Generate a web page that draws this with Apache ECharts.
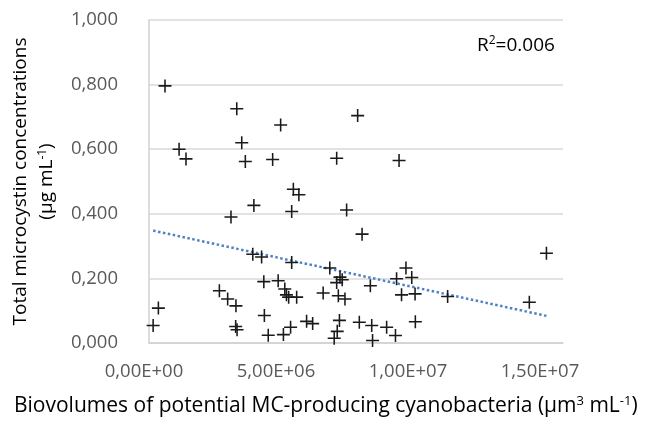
<!DOCTYPE html>
<html><head><meta charset="utf-8">
<script src="https://cdn.jsdelivr.net/npm/echarts@6/dist/echarts.min.js"></script>
<style>html,body{margin:0;padding:0;background:#fff}#c{width:654px;height:424px}</style>
</head><body><div id="c"></div>
<script>
// Biovolume (µm3 mL-1)
const biovolume = [
  0.58e6, 3.18e6, 4.77e6, 1.09e6, 1.34e6, 3.36e6, 3.49e6, 4.48e6, 5.23e6, 5.43e6,
  3.80e6, 5.17e6, 2.97e6, 3.76e6, 4.08e6, 5.17e6, 4.16e6, 4.68e6, 4.92e6, 4.98e6,
  5.06e6, 5.35e6, 2.55e6, 2.85e6, 3.15e6, 0.34e6, 0.15e6, 4.18e6, 3.14e6, 3.19e6,
  4.32e6, 4.87e6, 5.13e6, 5.71e6, 5.93e6, 7.56e6, 6.80e6, 9.06e6, 7.16e6, 7.72e6,
  6.55e6, 6.92e6, 7.00e6, 6.80e6, 8.02e6, 6.31e6, 6.86e6, 7.10e6, 9.31e6, 8.97e6,
  9.52e6, 9.15e6, 9.64e6, 10.82e6, 6.90e6, 6.82e6, 6.71e6, 7.62e6, 8.07e6, 8.10e6,
  8.61e6, 8.93e6, 9.65e6, 14.40e6, 13.78e6
];
// Total microcystin (µg mL-1)
const microcystin = [
  0.796, 0.725, 0.675, 0.600, 0.570, 0.620, 0.562, 0.568, 0.476, 0.459,
  0.426, 0.407, 0.390, 0.275, 0.266, 0.249, 0.190, 0.193, 0.167, 0.149,
  0.142, 0.142, 0.162, 0.136, 0.115, 0.108, 0.054, 0.085, 0.051, 0.041,
  0.024, 0.026, 0.049, 0.067, 0.060, 0.704, 0.572, 0.565, 0.412, 0.337,
  0.232, 0.204, 0.196, 0.187, 0.177, 0.155, 0.146, 0.136, 0.232, 0.199,
  0.203, 0.149, 0.152, 0.144, 0.070, 0.036, 0.015, 0.064, 0.054, 0.008,
  0.049, 0.023, 0.066, 0.278, 0.126
];
// Linear trend line end points
const trendX = [0.15e6, 14.40e6];
const trendY = [0.348, 0.084];

const xTickLabels = ['0,00E+00', '5,00E+06', '1,00E+07', '1,50E+07'];
const yTickLabels = ['0,000', '0,200', '0,400', '0,600', '0,800', '1,000'];
const xStep = 5e6, yStep = 0.2;

const points = biovolume.map((x, i) => [x, microcystin[i]]);
const trend = trendX.map((x, i) => [x, trendY[i]]);

const FONT = '"Open Sans", "Noto Sans", sans-serif';
const plus = 'path://M44,0H56V44H100V56H56V100H44V56H0V44H44Z';

const xRich = {};
xTickLabels.forEach((t, i) => {
  xRich['l' + i] = { fontFamily: FONT, fontSize: 18.5, color: '#595959', padding: [0, 2 * (5 + 6 * i), 0, 0] };
});

const chart = echarts.init(document.getElementById('c'), null, { renderer: 'canvas' });
chart.setOption({
  animation: false,
  backgroundColor: '#fff',
  grid: { left: 149, right: 91, top: 20, bottom: 81, containLabel: false, outerBoundsMode: 'none' },
  xAxis: {
    type: 'value', min: 0, max: 1.5e7, interval: xStep,
    axisLine: { show: true, lineStyle: { color: '#d0d0d0', width: 1.5 } },
    axisTick: { show: false },
    splitLine: { show: false },
    axisLabel: {
      margin: 19,
      formatter: v => { const i = Math.round(v / xStep); return '{l' + i + '|' + xTickLabels[i] + '}'; },
      rich: xRich
    }
  },
  yAxis: {
    type: 'value', min: 0, max: 1, interval: yStep,
    axisLine: { show: true, lineStyle: { color: '#d0d0d0', width: 1.5 } },
    axisTick: { show: false },
    splitLine: { show: true, lineStyle: { color: '#d9d9d9', width: 1.5 } },
    axisLabel: {
      margin: 31, fontFamily: FONT, fontSize: 18.5, color: '#595959',
      formatter: v => yTickLabels[Math.round(v / yStep)]
    },
    name: '{t|Total microcystin concentrations}\n{t|(µg mL}{s|-1}{t|)}',
    nameLocation: 'middle', nameGap: 89, nameRotate: 90,
    nameTextStyle: {
      rich: {
        t: { fontFamily: FONT, fontSize: 19, color: '#000', lineHeight: 26 },
        s: { fontFamily: FONT, fontSize: 12, color: '#000', lineHeight: 26, padding: [0, 0, 9, 0] }
      }
    }
  },
  graphic: [
    {
      type: 'text', left: 14, top: 395,
      style: {
        text: '{t|Biovolumes of potential MC-producing cyanobacteria (µm}{s|3}{t| mL}{s|-1}{t|)}',
        rich: {
          t: { fontFamily: FONT, fontSize: 21, fill: '#000', lineHeight: 26 },
          s: { fontFamily: FONT, fontSize: 13, fill: '#000', lineHeight: 26, padding: [0, 0, 10, 0] }
        }
      }
    },
    {
      type: 'text', left: 477, top: 35,
      style: {
        text: '{t|R}{s|2}{t|=0.006}',
        rich: {
          t: { fontFamily: FONT, fontSize: 19, fill: '#000', lineHeight: 24 },
          s: { fontFamily: FONT, fontSize: 12, fill: '#000', lineHeight: 24, padding: [0, 0, 9, 0] }
        }
      }
    }
  ],
  series: [
    {
      type: 'line', data: trend, showSymbol: false, symbol: 'none', silent: true,
      lineStyle: { color: '#4f81c7', width: 2.5, type: [2.5, 2.5], cap: 'butt' },
      z: 1
    },
    {
      type: 'scatter', data: points, symbol: plus, symbolSize: 13,
      itemStyle: { color: '#1a1a1a', opacity: 1 },
      z: 2
    }
  ]
});
</script></body></html>
